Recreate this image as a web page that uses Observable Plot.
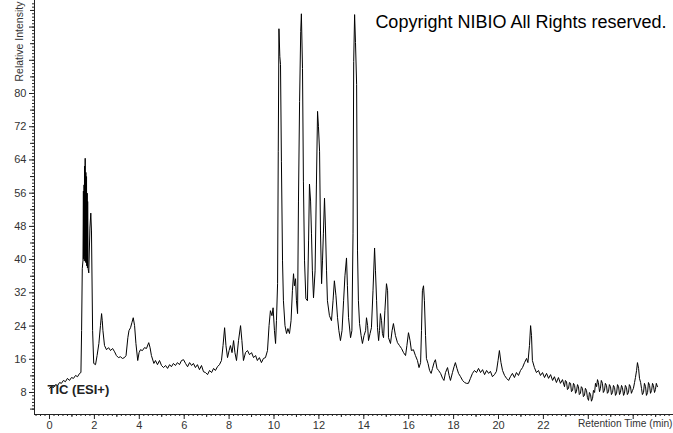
<!DOCTYPE html>
<html>
<head>
<meta charset="utf-8">
<script src="https://cdn.jsdelivr.net/npm/d3@7"></script>
<script src="https://cdn.jsdelivr.net/npm/@observablehq/plot@0.6"></script>
<style>
  html, body { margin: 0; padding: 0; background: #fff; }
  #chart svg { display: block; }
</style>
</head>
<body>
<div id="chart"></div>
<script>
// Retention time (min), relative intensity pairs
const seg0to2 = [
  [0,9.0],[0.09,9.4],[0.18,9.2],[0.27,9.9],[0.36,9.7],[0.45,10.4],[0.53,10.2],[0.62,10.9],
  [0.71,10.6],[0.80,11.4],[0.89,10.9],[0.98,11.6],[1.07,11.4],[1.16,12.1],[1.25,11.8],[1.34,12.6],
  [1.40,12.8],[1.43,22.9],[1.46,37.8],[1.49,39.7],[1.51,56.5],[1.52,40.2],[1.54,58.0],[1.55,39.7],
  [1.56,62.5],[1.57,40.9],[1.59,64.4],[1.60,39.5],[1.62,61.0],[1.63,39.2],[1.65,60.0],[1.66,38.5],
  [1.68,56.0],[1.69,38.0],[1.70,54.0],[1.72,37.8],[1.75,36.8],[1.80,47.6],
  [1.84,51.2],[1.87,46.9],[1.92,22.9],[1.97,15.0]
];
const seg2to7 = [
  [2.05,14.7],[2.12,16.9],[2.20,19.8],[2.27,24.1],[2.32,27.0],[2.35,25.3],[2.38,22.9],[2.45,19.3],
  [2.54,18.3],[2.63,18.8],[2.72,18.1],[2.81,18.6],[2.90,17.8],[2.98,16.9],[3.07,16.4],[3.16,16.6],
  [3.25,16.2],[3.34,16.4],[3.41,16.9],[3.49,21.2],[3.54,22.9],[3.61,23.6],[3.67,24.8],[3.73,26.0],
  [3.79,24.1],[3.85,19.8],[3.93,15.7],[3.99,17.6],[4.05,18.3],[4.14,18.1],[4.23,18.8],[4.32,18.6],
  [4.42,20.0],[4.48,18.8],[4.54,16.9],[4.65,15.0],[4.72,15.7],[4.81,14.7],[4.90,15.7],[4.99,14.5],
  [5.08,14.0],[5.17,14.5],[5.26,13.8],[5.35,14.7],[5.43,14.2],[5.52,15.0],[5.61,14.5],[5.70,15.2],
  [5.79,14.7],[5.88,15.7],[5.97,15.9],[6.06,15.0],[6.15,14.2],[6.24,15.2],[6.33,14.5],[6.41,15.0],
  [6.50,14.0],[6.59,14.7],[6.68,13.5],[6.77,14.5],[6.86,13.0],[6.95,12.8]
];
const seg7to10 = [
  [7.04,12.3],[7.13,13.3],[7.22,12.8],[7.31,13.8],[7.39,13.3],[7.48,14.2],[7.57,14.7],[7.66,15.7],
  [7.73,19.3],[7.80,23.6],[7.86,19.3],[7.93,16.4],[8.00,18.1],[8.06,19.3],[8.13,17.6],[8.20,20.5],
  [8.26,17.6],[8.33,15.7],[8.42,20.5],[8.51,24.1],[8.57,20.5],[8.64,15.7],[8.73,17.6],[8.82,18.1],
  [8.91,17.1],[9.00,17.6],[9.09,16.4],[9.18,16.9],[9.26,15.7],[9.35,16.4],[9.44,15.2],[9.53,16.2],
  [9.62,16.4],[9.71,18.1],[9.78,24.1],[9.84,27.7],[9.91,26.5],[9.96,28.4]
];
const seg10to13 = [
  [10.02,22.9],[10.07,19.8],[10.11,25.3],[10.16,34.2],[10.19,66.1],[10.22,95.6],[10.26,88.9],[10.29,87.0],
  [10.33,63.7],[10.38,39.7],[10.42,30.1],[10.49,24.1],[10.56,22.2],[10.62,23.4],[10.69,22.2],[10.76,25.3],
  [10.82,32.5],[10.87,36.6],[10.91,33.7],[10.96,35.4],[11.00,30.1],[11.05,27.0],[11.09,54.1],[11.14,78.1],
  [11.19,94.9],[11.22,99.2],[11.27,86.0],[11.31,58.9],[11.36,39.7],[11.42,30.6],[11.49,30.1],[11.54,44.5],
  [11.58,58.2],[11.63,54.1],[11.67,46.2],[11.71,37.3],[11.76,30.8],[11.83,37.3],[11.89,58.2],[11.94,75.7],
  [11.98,72.1],[12.03,66.1],[12.07,46.9],[12.12,34.2],[12.16,39.7],[12.20,46.2],[12.25,54.8],[12.29,48.1],
  [12.34,37.3],[12.38,30.1],[12.47,26.5],[12.56,25.3],[12.63,30.1],[12.69,34.9],[12.76,31.3],[12.83,26.0],
  [12.89,22.9],[12.96,20.5]
];
const seg13to16 = [
  [13.03,22.9],[13.10,30.1],[13.16,36.1],[13.23,40.4],[13.27,33.7],[13.32,26.0],[13.41,21.2],[13.47,22.9],
  [13.52,46.2],[13.55,87.7],[13.59,99.0],[13.63,92.3],[13.68,82.2],[13.72,42.1],[13.76,30.1],[13.81,24.6],
  [13.88,21.7],[13.94,19.8],[14.01,21.7],[14.08,22.9],[14.12,26.0],[14.17,24.1],[14.21,20.5],[14.28,22.2],
  [14.34,23.6],[14.41,32.5],[14.48,42.8],[14.52,37.3],[14.57,30.1],[14.61,23.6],[14.66,20.5],[14.70,22.9],
  [14.74,27.0],[14.79,25.3],[14.83,22.2],[14.88,21.2],[14.94,27.7],[15.01,34.2],[15.06,32.5],[15.10,21.2],
  [15.19,19.8],[15.26,22.9],[15.32,24.6],[15.41,21.7],[15.50,20.0],[15.59,19.3],[15.68,18.6],[15.77,17.6],
  [15.86,16.9],[15.92,19.3],[15.99,22.4]
];
const seg16to20 = [
  [16.06,20.5],[16.12,18.1],[16.21,18.3],[16.30,16.9],[16.39,15.7],[16.46,14.0],[16.53,15.2],[16.57,22.9],
  [16.61,32.5],[16.66,33.7],[16.70,30.1],[16.75,21.7],[16.79,16.2],[16.86,15.0],[16.93,13.3],[17.00,12.6],
  [17.06,13.8],[17.13,15.2],[17.19,15.9],[17.26,13.8],[17.33,13.3],[17.42,12.6],[17.51,11.4],[17.57,10.9],
  [17.64,12.8],[17.73,14.0],[17.80,12.1],[17.86,10.9],[17.95,12.8],[18.02,14.2],[18.08,15.2],[18.15,13.8],
  [18.22,12.6],[18.31,11.8],[18.40,10.9],[18.49,10.4],[18.57,10.2],[18.66,10.2],[18.75,11.4],[18.84,12.6],
  [18.93,13.3],[19.02,12.8],[19.11,13.8],[19.20,12.8],[19.29,13.5],[19.38,12.3],[19.47,13.3],[19.56,12.6],
  [19.64,13.1],[19.73,11.8],[19.82,12.3],[19.91,13.1],[19.98,15.7]
];
const seg20to24 = [
  [20.04,18.1],[20.11,15.2],[20.18,13.3],[20.27,12.1],[20.36,11.4],[20.45,10.9],[20.53,11.8],[20.62,12.6],
  [20.71,11.6],[20.80,12.8],[20.89,12.1],[20.98,13.3],[21.07,14.0],[21.16,15.2],[21.25,16.2],[21.31,15.2],
  [21.38,19.3],[21.43,24.1],[21.47,21.7],[21.51,15.7],[21.60,14.0],[21.69,12.8],[21.78,13.3],[21.87,12.1],
  [21.96,12.8],[22.05,11.6],[22.14,12.6],[22.23,11.4],[22.32,12.3],[22.41,10.9],[22.49,11.8],[22.58,10.4],
  [22.67,11.6],[22.76,10.2],[22.85,11.1],[22.94,9.4],[22.98,10.9],[23.03,10.6],[23.07,8.7],[23.12,9.0],
  [23.16,10.4],[23.21,10.2],[23.25,8.2],[23.30,8.5],[23.34,10.2],[23.39,9.7],[23.43,7.8],[23.47,8.2],
  [23.52,9.9],[23.56,9.4],[23.60,7.5],[23.65,7.8],[23.69,9.4],[23.74,9.0],[23.78,7.0],[23.83,7.3],
  [23.87,9.0],[23.92,8.5],[23.96,6.8]
];
const seg24to27 = [
  [24.01,6.1],[24.05,8.0],[24.10,7.5],[24.14,5.9],[24.19,6.6],[24.23,8.5],[24.28,8.0],[24.32,10.2],
  [24.37,9.4],[24.41,11.1],[24.45,10.4],[24.50,8.2],[24.54,9.0],[24.58,10.9],[24.63,10.2],[24.67,8.0],
  [24.72,8.5],[24.76,10.2],[24.81,9.7],[24.85,7.8],[24.90,8.2],[24.94,9.9],[24.99,9.4],[25.03,7.5],
  [25.08,8.0],[25.12,9.7],[25.17,9.2],[25.21,7.3],[25.26,7.8],[25.30,9.9],[25.35,9.4],[25.39,7.5],
  [25.43,8.0],[25.48,9.7],[25.52,9.2],[25.57,7.3],[25.61,7.8],[25.65,9.7],[25.70,9.2],[25.74,7.5],
  [25.79,8.0],[25.83,9.9],[25.88,9.4],[25.92,7.8],[25.97,8.5],[26.01,9.0],[26.06,10.4],[26.10,11.6],
  [26.15,13.3],[26.19,15.2],[26.24,13.8],[26.28,11.4],[26.33,10.4],[26.37,9.0],[26.41,7.5],[26.46,8.0],
  [26.50,10.2],[26.55,9.4],[26.59,7.3],[26.64,8.0],[26.68,10.4],[26.73,9.7],[26.77,7.8],[26.82,8.5],
  [26.86,10.2],[26.90,9.7],[26.95,8.0],[26.99,8.7],[27.03,10.2],[27.08,9.4]
];

const xLabelTicks = [0,2,4,6,8,10,12,14,16,18,20,22];
const xMajorTicks = [0,2,4,6,8,10,12,14,16,18,20,22,24,26];
const yLabelTicks = [8,16,24,32,40,48,56,64,72,80];
const yMajorTicks = [8,16,24,32,40,48,56,64,72,80,88,96];

const trace = [...seg0to2, ...seg2to7, ...seg7to10, ...seg10to13, ...seg13to16, ...seg16to20, ...seg20to24, ...seg24to27]
  .map(([t, v]) => ({t, v}));

const xMinor = d3.range(-0.6, 27.8, 0.2).map(d => Math.round(d * 10) / 10);
const xMid = d3.range(1, 28, 2);
const yMinor = d3.range(4, 102, 0.8).map(d => Math.round(d * 10) / 10);
const yMid = d3.range(4, 102, 8);

const chart = Plot.plot({
  width: 673,
  height: 433,
  marginLeft: 34,
  marginRight: 0,
  marginTop: 0,
  marginBottom: 19,
  style: {fontFamily: "'Liberation Sans', Arial, sans-serif", fontSize: "11px", color: "#333", background: "#fff", overflow: "visible"},
  x: {domain: [-0.668, 27.795]},
  y: {domain: [2.70, 102.4]},
  marks: [
    Plot.axisX(xMinor, {tickSize: 2, tickFormat: () => "", stroke: "#222", label: null}),
    Plot.axisX(xMid, {tickSize: 3, tickFormat: () => "", stroke: "#222", label: null}),
    Plot.axisX(xMajorTicks, {tickSize: 5, tickFormat: d => xLabelTicks.includes(d) ? String(d) : "", tickPadding: 2, stroke: "#222", fill: "#333", label: null}),
    Plot.axisY(yMinor, {tickSize: 2, tickFormat: () => "", stroke: "#222", label: null}),
    Plot.axisY(yMid, {tickSize: 4, tickFormat: () => "", stroke: "#222", label: null}),
    Plot.axisY(yMajorTicks, {tickSize: 5, tickPadding: 3, tickFormat: d => yLabelTicks.includes(d) ? String(d) : "", stroke: "#222", fill: "#333", label: null}),
    Plot.frame({anchor: "left", stroke: "#222"}),
    Plot.frame({anchor: "bottom", stroke: "#222"}),
    Plot.line(trace, {x: "t", y: "v", stroke: "#000", strokeWidth: 1}),
    Plot.text(["Copyright NIBIO All Rights reserved."], {frameAnchor: "top-right", dx: -7, dy: 15, textAnchor: "end", fontSize: 18, fill: "#000"}),
    Plot.text(["TIC (ESI+)"], {frameAnchor: "bottom-left", dx: 13, dy: -21, textAnchor: "start", fontSize: 13, fontWeight: "bold", fill: "#222"}),
    Plot.text(["Retention Time (min)"], {frameAnchor: "bottom-right", dx: -1, dy: 12, textAnchor: "end", fontSize: 10.2, fill: "#333"}),
    Plot.text(["Relative Intensity"], {frameAnchor: "top-left", dx: -19, dy: 81, rotate: -90, textAnchor: "start", fontSize: 10.5, fill: "#333"})
  ]
});
document.getElementById("chart").appendChild(chart);
</script>
</body>
</html>
